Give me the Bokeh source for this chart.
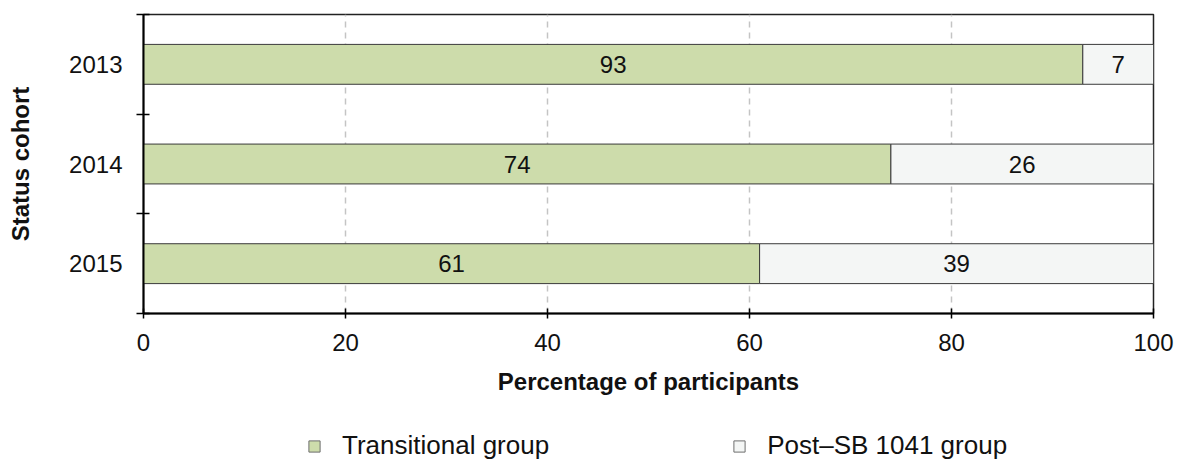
from bokeh.plotting import figure
from bokeh.models import (ColumnDataSource, Range1d, FixedTicker, Legend, LegendItem)
from bokeh.layouts import column
from bokeh.core.properties import value
from bokeh.embed import file_html
from bokeh.resources import INLINE

# ---- data ----
cohorts = ["2013", "2014", "2015"]
transitional = [93, 74, 61]
post_sb = [7, 26, 39]
x_ticks = [0, 20, 40, 60, 80, 100]
series_names = ["Transitional group", "Post\u2013SB 1041 group"]

GREEN = "#cddcab"
GRAY = "#f4f6f5"
FONT = "Liberation Sans"
EDGE = "#3a3a3a"

n = len(cohorts)
ypos = [n - i - 0.5 for i in range(n)]
total_end = [t + s for t, s in zip(transitional, post_sb)]
src = ColumnDataSource(dict(
    y=ypos,
    t_end=transitional,
    total=total_end,
    zero=[0] * n,
    t_mid=[t / 2 for t in transitional],
    s_mid=[t + s / 2 for t, s in zip(transitional, post_sb)],
    t_lab=[str(v) for v in transitional],
    s_lab=[str(v) for v in post_sb],
))

W, HM, HL = 1175, 420, 45
p = figure(width=W, height=HM, output_backend="svg", toolbar_location=None,
           x_range=Range1d(0, 100), y_range=Range1d(0, n),
           min_border_left=143, min_border_right=W - 1153, min_border_top=14,
           min_border_bottom=HM - 313)

p.hbar(y="y", left="zero", right="t_end", height=0.4, source=src,
       fill_color=GREEN, line_color=EDGE, line_width=1)
p.hbar(y="y", left="t_end", right="total", height=0.4, source=src,
       fill_color=GRAY, line_color=EDGE, line_width=1)

p.text(x="t_mid", y="y", text="t_lab", source=src, text_align="center",
       text_baseline="middle", text_font=value(FONT), text_font_size="24px",
       text_color="#111111")
p.text(x="s_mid", y="y", text="s_lab", source=src, text_align="center",
       text_baseline="middle", text_font=value(FONT), text_font_size="24px",
       text_color="#111111")

# axes
p.xaxis.ticker = FixedTicker(ticks=x_ticks)
p.xaxis.axis_label = "Percentage of participants"
p.yaxis.ticker = FixedTicker(ticks=ypos, minor_ticks=list(range(n + 1)))
p.yaxis.major_label_overrides = {y: c for y, c in zip(ypos, cohorts)}
p.yaxis.axis_label = "Status cohort"

for ax in (p.xaxis[0], p.yaxis[0]):
    ax.axis_line_color = "black"
    ax.axis_line_width = 2
    ax.major_label_text_font = FONT
    ax.major_label_text_font_size = "24px"
    ax.major_label_text_color = "#111111"
    ax.axis_label_text_font = FONT
    ax.axis_label_text_font_size = "24px"
    ax.axis_label_text_font_style = "bold"
    ax.axis_label_text_color = "#111111"

p.xaxis.major_tick_in = 5
p.xaxis.major_tick_out = 5
p.xaxis.major_tick_line_width = 1.5
p.xaxis.major_tick_line_color = "black"
p.xaxis.minor_tick_line_color = None
p.xaxis.major_label_standoff = 15
p.xaxis.axis_label_standoff = 14

p.yaxis.major_tick_in = 0
p.yaxis.major_tick_out = 0
p.yaxis.minor_tick_in = 6
p.yaxis.minor_tick_out = 7
p.yaxis.minor_tick_line_color = "black"
p.yaxis.minor_tick_line_width = 1.5
p.yaxis.major_label_standoff = 14
p.yaxis.axis_label_standoff = 32

p.xgrid.ticker = FixedTicker(ticks=x_ticks)
p.xgrid.grid_line_color = "#c4c4c4"
p.xgrid.grid_line_dash = "6 5"
p.xgrid.grid_line_width = 1.5
p.ygrid.grid_line_color = None

p.outline_line_color = "#222222"
p.outline_line_width = 1.5
p.background_fill_color = "white"
p.border_fill_color = "white"

# ---- legend strip (separate figure below the chart) ----
pl = figure(width=W, height=HL, output_backend="svg", toolbar_location=None,
            x_range=Range1d(0, 100), y_range=Range1d(0, n),
            x_axis_location=None, y_axis_location=None,
            min_border=0, outline_line_color=None)
pl.grid.visible = False
l1 = pl.hbar(y="y", left="zero", right="t_end", height=0.4, source=src,
             fill_color=GREEN, line_color="#6e6e6e", line_width=1, visible=False)
l2 = pl.hbar(y="y", left="t_end", right="total", height=0.4, source=src,
             fill_color=GRAY, line_color="#6e6e6e", line_width=1, visible=False)
legend = Legend(items=[LegendItem(label=series_names[0], renderers=[l1]),
                       LegendItem(label=series_names[1], renderers=[l2])],
                orientation="horizontal", location=(164, 4),
                glyph_width=14, glyph_height=14, label_standoff=21, spacing=183,
                padding=0, margin=0, click_policy="none",
                inactive_fill_alpha=0,
                label_text_font=FONT, label_text_font_size="26px",
                label_text_color="#111111",
                border_line_color=None, background_fill_alpha=0)
pl.add_layout(legend, "center")

layout = column(p, pl, spacing=0)
open("out.html", "w").write(file_html(layout, INLINE))
